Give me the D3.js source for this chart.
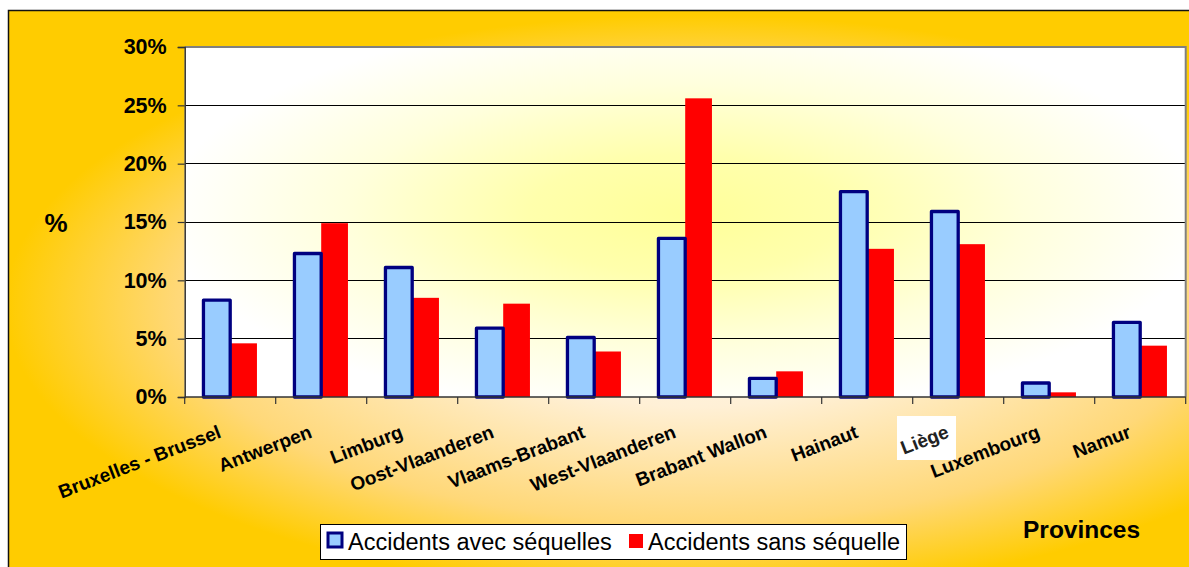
<!DOCTYPE html>
<html>
<head>
<meta charset="utf-8">
<script src="https://cdn.jsdelivr.net/npm/d3@7"></script>
<style>
  html, body { margin: 0; padding: 0; background: #ffffff; }
  svg { display: block; }
  text { font-family: "Liberation Sans", Arial, sans-serif; }
</style>
</head>
<body>
<svg id="chart" width="1189" height="567"></svg>
<script>
const categories = ["Bruxelles - Brussel", "Antwerpen", "Limburg", "Oost-Vlaanderen", "Vlaams-Brabant",
  "West-Vlaanderen", "Brabant Wallon", "Hainaut", "Liège", "Luxembourg", "Namur"];
const seriesNames = ["Accidents avec séquelles", "Accidents sans séquelle"];
const avecSequelles = [8.3, 12.3, 11.1, 5.9, 5.1, 13.6, 1.6, 17.6, 15.9, 1.2, 6.4];
const sansSequelle = [4.6, 14.9, 8.5, 8.0, 3.9, 25.6, 2.2, 12.7, 13.1, 0.4, 4.4];
const yTickValues = [0, 5, 10, 15, 20, 25, 30];
const yTitle = "%";
const xTitle = "Provinces";

const svg = d3.select("#chart");
const defs = svg.append("defs");

// outer background gradient (light centre, gold edges)
const og = defs.append("radialGradient").attr("id", "outerGrad")
  .attr("gradientUnits", "userSpaceOnUse").attr("cx", 0).attr("cy", 0).attr("r", 1)
  .attr("gradientTransform", "translate(695,305) scale(690,290)");
og.append("stop").attr("offset", 0).attr("stop-color", "#FFF9F0");
og.append("stop").attr("offset", 0.35).attr("stop-color", "#FFF0D6");
og.append("stop").attr("offset", 0.75).attr("stop-color", "#FFD878");
og.append("stop").attr("offset", 1).attr("stop-color", "#FFCC00");

// plot background gradient (yellow centre, white edges)
const pg = defs.append("radialGradient").attr("id", "plotGrad")
  .attr("gradientUnits", "userSpaceOnUse").attr("cx", 0).attr("cy", 0).attr("r", 1)
  .attr("gradientTransform", "translate(685,215) scale(520,200)");
pg.append("stop").attr("offset", 0).attr("stop-color", "#FFFF99");
pg.append("stop").attr("offset", 0.3).attr("stop-color", "#FFFFAC");
pg.append("stop").attr("offset", 0.65).attr("stop-color", "#FFFFDC");
pg.append("stop").attr("offset", 1).attr("stop-color", "#FFFFFF");

// chart frame
svg.append("rect").attr("x", 8.5).attr("y", 10.5).attr("width", 1200).attr("height", 580)
  .attr("fill", "url(#outerGrad)").attr("stroke", "#111").attr("stroke-width", 1.5);

const plot = { left: 184.7, right: 1185.7, top: 47, bottom: 397 };

const x0 = d3.scaleBand().domain(categories).range([plot.left, plot.right]).padding(0);
const bw = x0.bandwidth();
const x1 = d3.scaleBand().domain(seriesNames).range([bw * 0.206, bw * 0.794]).padding(0);
const y = d3.scaleLinear().domain([0, 30]).range([plot.bottom, plot.top]);

// plot area
svg.append("rect").attr("x", plot.left).attr("y", plot.top)
  .attr("width", plot.right - plot.left).attr("height", plot.bottom - plot.top)
  .attr("fill", "url(#plotGrad)");

// gridlines
svg.append("g").selectAll("line").data(yTickValues.filter(d => d > 0 && d < 30)).join("line")
  .attr("x1", plot.left).attr("x2", plot.right)
  .attr("y1", d => y(d)).attr("y2", d => y(d))
  .attr("stroke", "#000").attr("stroke-width", 1).attr("shape-rendering", "crispEdges");

// plot border top/right
svg.append("path")
  .attr("d", `M${plot.left},${plot.top} H${plot.right} V${plot.bottom}`)
  .attr("fill", "none").attr("stroke", "#808080").attr("stroke-width", 2);

// bars
const rows = categories.map((c, i) => ({ cat: c, vals: [avecSequelles[i], sansSequelle[i]] }));
const groups = svg.append("g").selectAll("g").data(rows).join("g")
  .attr("transform", d => `translate(${x0(d.cat)},0)`);

groups.append("rect")
  .attr("x", x1(seriesNames[1]))
  .attr("width", x1.bandwidth())
  .attr("y", d => y(d.vals[1]))
  .attr("height", d => y(0) - y(d.vals[1]))
  .attr("fill", "#FF0000");

groups.append("rect")
  .attr("x", x1(seriesNames[0]))
  .attr("width", x1.bandwidth())
  .attr("y", d => y(d.vals[0]))
  .attr("height", d => y(0) - y(d.vals[0]))
  .attr("fill", "#99CCFF").attr("stroke", "#000080").attr("stroke-width", 3.3)
  .attr("stroke-linejoin", "round");

// y axis
const yAxis = d3.axisLeft(y).tickValues(yTickValues).tickSize(7).tickPadding(11)
  .tickFormat(d => d + "%");
const yg = svg.append("g").attr("transform", `translate(${plot.left},0)`).call(yAxis);
yg.select(".domain").attr("stroke", "#333").attr("stroke-width", 1.5);
yg.selectAll(".tick line").attr("stroke", "#333").attr("stroke-width", 1.2);
yg.selectAll(".tick text").attr("fill", "#000").style("font-size", "21.5px").style("font-weight", "bold")
  .style("font-family", '"Liberation Sans", Arial, sans-serif');

// x axis line
svg.append("line").attr("x1", plot.left).attr("x2", plot.right)
  .attr("y1", plot.bottom).attr("y2", plot.bottom)
  .attr("stroke", "#333").attr("stroke-width", 1.5);

// x ticks at band boundaries
const boundaries = categories.map(c => x0(c)).concat([x0(categories[categories.length - 1]) + bw]);
svg.append("g").selectAll("line").data(boundaries).join("line")
  .attr("x1", d => d).attr("x2", d => d)
  .attr("y1", plot.bottom).attr("y2", plot.bottom + 7)
  .attr("stroke", "#333").attr("stroke-width", 1.2);

// category labels
const labG = svg.append("g");
categories.forEach((c, i) => {
  const cx = x0(c) + bw / 2;
  const g = labG.append("g").attr("transform", `translate(${cx - 8},437) rotate(-21)`);
  if (c === "Liège") {
    // label sits on a white patch in the original
    labG.insert("rect", ":first-child").attr("x", 897).attr("y", 416).attr("width", 59).attr("height", 44)
      .attr("fill", "#ffffff");
  }
  g.append("text").attr("text-anchor", "end").attr("x", 0).attr("y", 0)
    .style("font-size", "19px").style("font-weight", "bold")
    .attr("fill", c === "Liège" ? "#222" : "#000")
    .text(c);
});

// axis titles
svg.append("text").attr("x", 56).attr("y", 232).attr("text-anchor", "middle")
  .style("font-size", "26px").style("font-weight", "bold").text(yTitle);
svg.append("text").attr("x", 1023).attr("y", 538).attr("text-anchor", "start")
  .style("font-size", "24.5px").style("font-weight", "bold").text(xTitle);

// legend
const lg = svg.append("g");
lg.append("rect").attr("x", 320.5).attr("y", 524.5).attr("width", 586).attr("height", 35)
  .attr("fill", "#fff").attr("stroke", "#000").attr("stroke-width", 1);
lg.append("rect").attr("x", 328).attr("y", 533).attr("width", 14).attr("height", 14)
  .attr("fill", "#99CCFF").attr("stroke", "#000080").attr("stroke-width", 3);
lg.append("text").attr("x", 348).attr("y", 550).style("font-size", "23.5px").text(seriesNames[0]);
lg.append("rect").attr("x", 629).attr("y", 534).attr("width", 14).attr("height", 14)
  .attr("fill", "#FF0000");
lg.append("text").attr("x", 648).attr("y", 550).style("font-size", "23.5px").text(seriesNames[1]);
</script>
</body>
</html>
